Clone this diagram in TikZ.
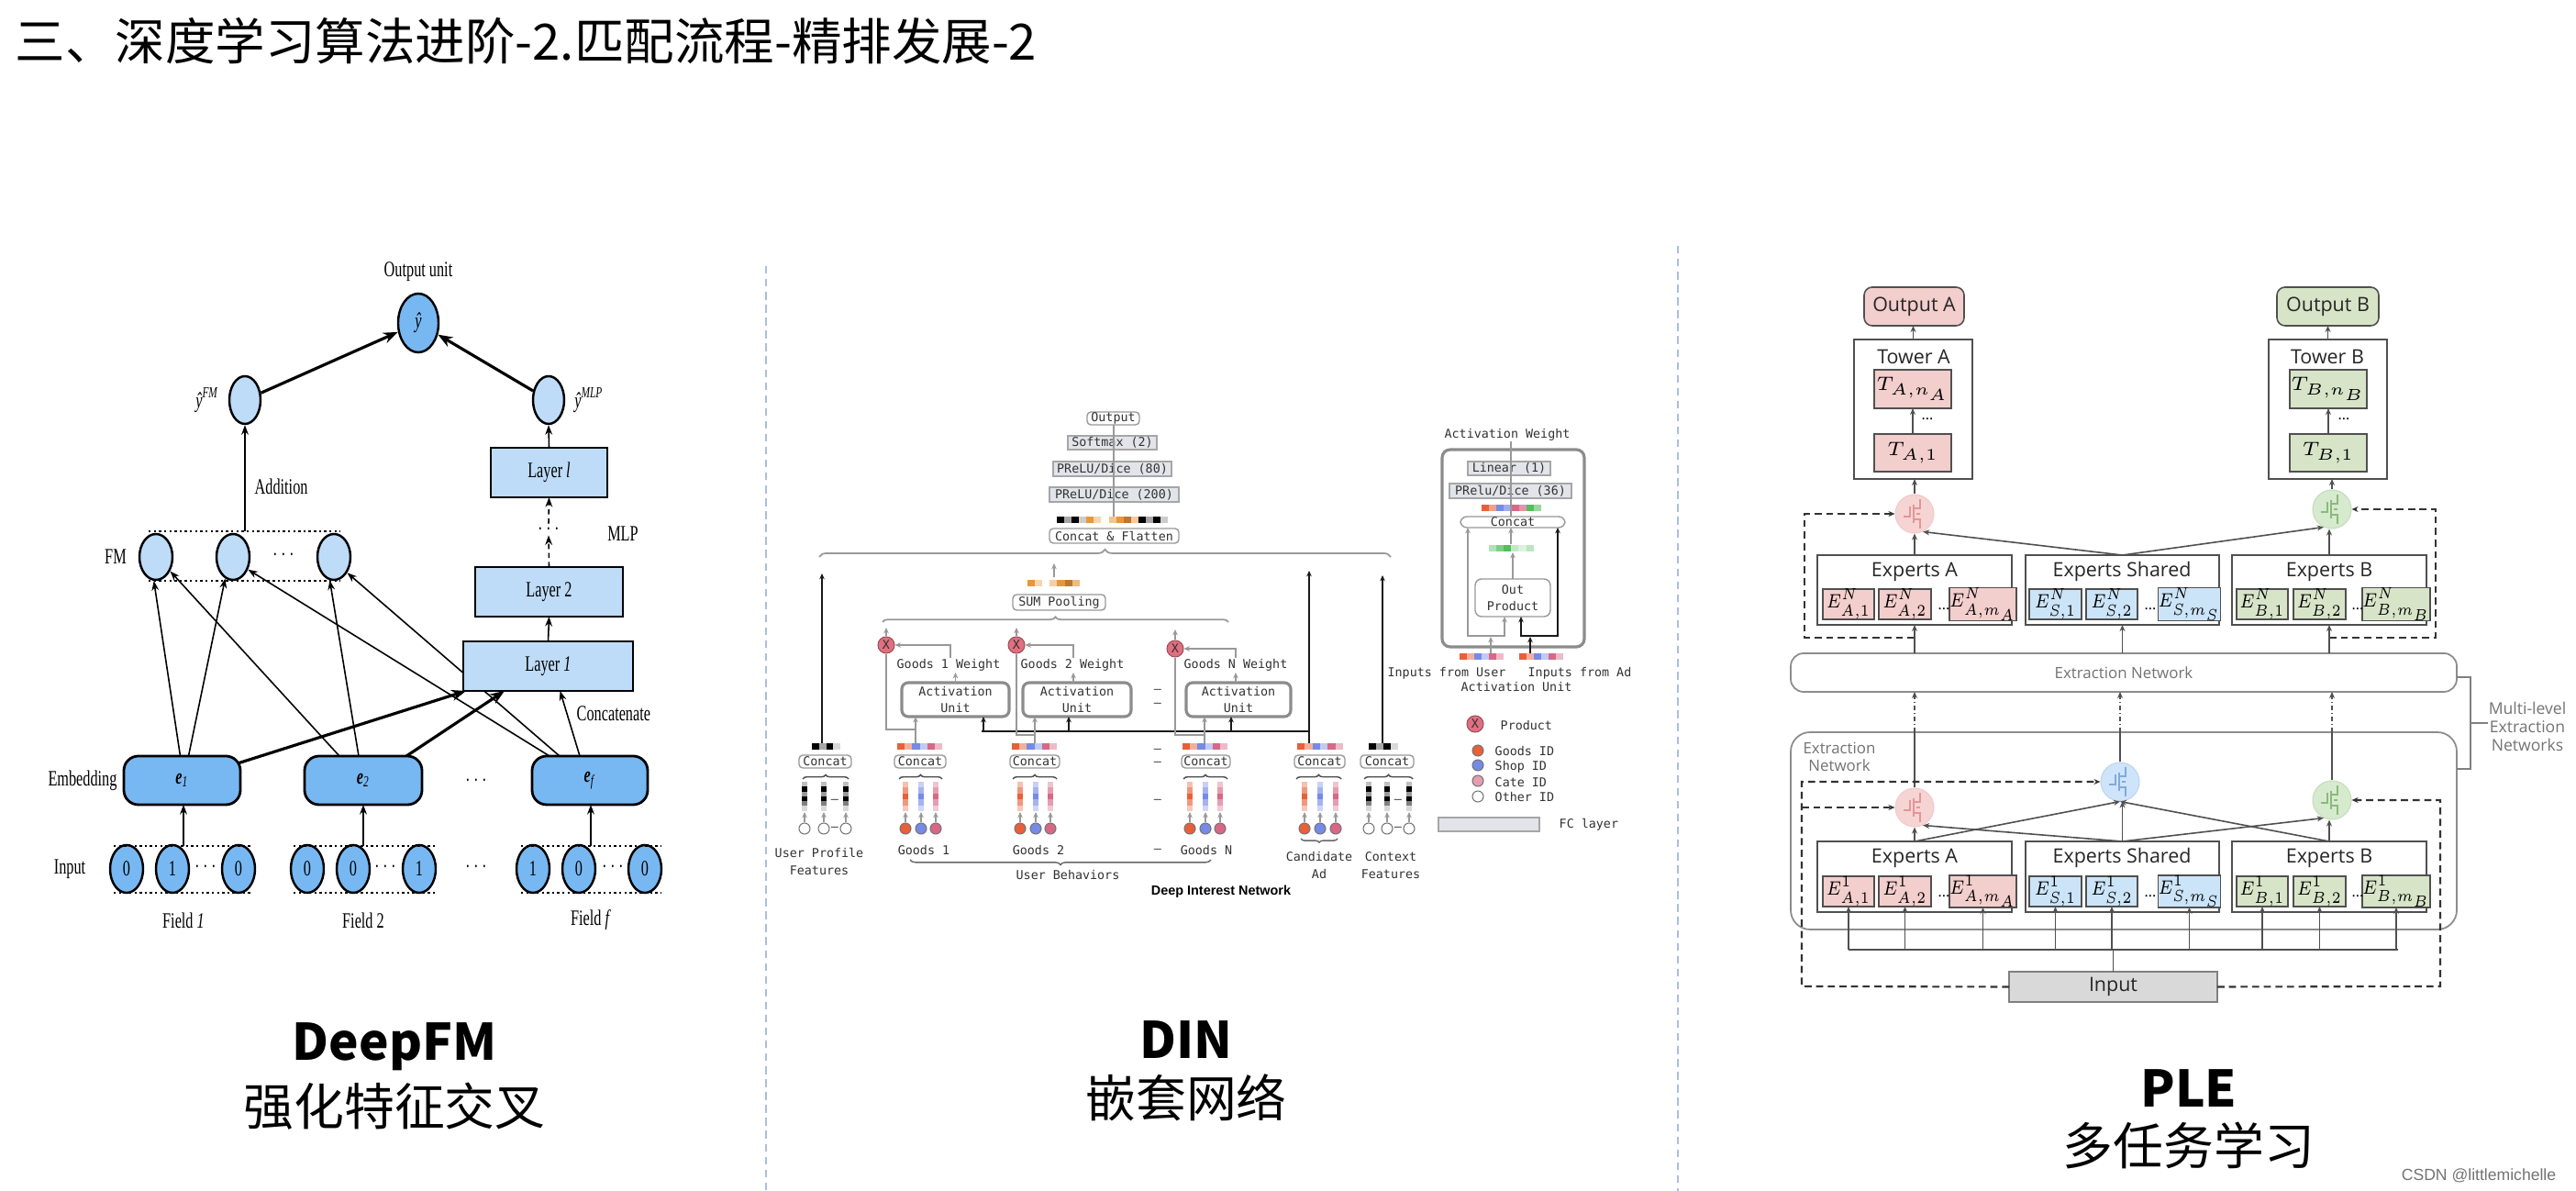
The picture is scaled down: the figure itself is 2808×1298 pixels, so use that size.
\documentclass[tikz,border=0pt]{standalone}
\usepackage{graphicx}
\usepackage{fontspec}
\setmainfont{Liberation Serif}
\newfontfamily\cjk{Noto Sans CJK SC}
\newfontfamily\monof{DejaVu Sans Mono}
\newfontfamily\plef{Open Sans}
\newfontfamily\arialf{Liberation Sans}
\usetikzlibrary{arrows.meta,decorations.pathreplacing,calc,shapes.geometric}
\pgfdeclarelayer{bgl}
\pgfdeclarelayer{conl}
\pgfsetlayers{bgl,conl,main}

\definecolor{fmlight}{RGB}{190,220,248}
\definecolor{fmdark}{RGB}{120,184,242}
\definecolor{dinor}{RGB}{232,96,56}
\definecolor{dinbl}{RGB}{118,138,232}
\definecolor{dinpk}{RGB}{216,104,134}
\definecolor{dingr}{RGB}{84,190,92}
\definecolor{dinam}{RGB}{232,150,60}
\definecolor{dinprod}{RGB}{224,112,128}
\definecolor{dinfc}{RGB}{226,228,234}
\definecolor{dintext}{RGB}{50,50,50}
\definecolor{plepk}{RGB}{242,206,204}
\definecolor{plegr}{RGB}{216,228,200}
\definecolor{plebl}{RGB}{204,228,248}
\definecolor{pleline}{RGB}{80,80,80}
\definecolor{plegray}{RGB}{217,217,217}
\definecolor{divblue}{RGB}{170,190,225}
\definecolor{gapk}{RGB}{246,212,212}
\definecolor{gapkd}{RGB}{226,150,150}
\definecolor{gagr}{RGB}{214,234,206}
\definecolor{gagrd}{RGB}{140,185,125}
\definecolor{gabl}{RGB}{206,228,250}
\definecolor{gabld}{RGB}{130,170,215}

\newcommand{\fmsq}[1]{\scalebox{0.68}[1]{#1}}
\newcommand{\esq}[1]{\scalebox{0.82}[1]{#1}}
\newcommand{\boxnode}[7][]{%
  \pgfmathsetmacro\mybw{(#5-#3)*0.01}%
  \pgfmathsetmacro\mybh{(#6-#4)*0.01}%
  \node[inner sep=0pt, outer sep=0pt, minimum width=\mybw cm, minimum height=\mybh cm, #1] (#2) at ({(#3+#5)/2},{(#4+#6)/2}) {#7};}
\newcommand{\dinhbar}[4]{%
  \foreach \dcc [count=\dii from 0] in {#4} {\fill[\dcc] ({#1+\dii*#3},#2) rectangle ++(#3,7);}}
\newcommand{\dinvbar}[4]{%
  \foreach \dcc [count=\dii from 0] in {#4} {\fill[\dcc] ({#1-3},{#2+\dii*#3}) rectangle ++(6,#3);}}
\newcommand{\dincol}[3]{%
  \dinvbar{#2}{852}{6.4}{#3!40,#3!65,#3,#3!65,#3!35}
  \node[dcirc, fill=#3] (#1) at (#2,903) {};
  \draw[dgarr, line width=0.35pt] (#1.north) -- (#2,885);}
\newcommand{\dinbw}[2]{%
  \dinvbar{#2}{852}{5.3}{black!25,black,black!40,black,black!50,black!15}
  \node[dcirc, fill=white] (#1) at (#2,903) {};
  \draw[dgarr, line width=0.35pt] (#1.north) -- (#2,885);}
\newcommand{\gatesym}[2]{\begin{scope}[shift={(#1)}]
  \draw[#2, line width=0.35pt] (-12,3) -- (-5,3) -- (-5,-8) (-1,-10) -- (-1,10) (-1,-6) -- (6,-6) -- (6,-16) (-1,6) -- (6,6) -- (6,16) (2,0) -- (6,0);
  \end{scope}}
\newcommand{\ebox}[7]{\boxnode[pbox, fill=#6, pemath]{#1}{#2}{#4}{#3}{#5}{\esq{#7}}}

\tikzset{
 divider/.style={draw=divblue, line width=0.45pt, dash pattern=on 2.4pt off 1.6pt},
 fmtxt/.style={font=\fontsize{6.8}{7.5}\selectfont, inner sep=0pt},
 fmell/.style={ellipse, draw=black, line width=0.7pt, inner sep=0pt, fmtxt},
 fmbox/.style={draw=black, line width=0.8pt, fill=fmlight, fmtxt},
 fmarr/.style={line width=0.45pt, -{Stealth[length=3pt,width=2.2pt]}},
 fmthick/.style={line width=0.9pt, -{Stealth[length=4.5pt,width=3.4pt]}},
 fmdot/.style={line width=0.8pt, dash pattern=on 0.7pt off 0.9pt},
 dtxt/.style={font=\monof\fontsize{3.8}{5.2}\selectfont, text=dintext, inner sep=0pt, align=center},
 dfc/.style={fill=dinfc, draw=black!35, line width=0.35pt, dtxt},
 drnd/.style={draw=black!40, line width=0.4pt, rounded corners=1.2pt, fill=white, dtxt},
 dtip/.style={-{Stealth[length=1.8pt,width=1.6pt]}},
 dtips/.style={{Stealth[length=1.8pt,width=1.6pt]}-{Stealth[length=1.8pt,width=1.6pt]}},
 dgline/.style={draw=black!40, line width=0.5pt},
 dbline/.style={draw=black!90, line width=0.5pt},
 dgarr/.style={dgline, dtip},
 dbarr/.style={dbline, dtip},
 dcirc/.style={circle, draw=black!55, line width=0.3pt, minimum size=0.12cm, inner sep=0pt},
 dprod/.style={circle, fill=dinprod, draw=dinprod!70!black, line width=0.3pt, minimum size=0.18cm, inner sep=0pt, dtxt},
 dbrace/.style={decorate, decoration={brace, amplitude=#1}},
 dbracem/.style={decorate, decoration={brace, mirror, amplitude=#1}},
 ptxt/.style={font=\plef\fontsize{6.1}{7}\selectfont, text=black!85, inner sep=0pt},
 pbox/.style={draw=pleline, line width=0.45pt},
 pmath/.style={font=\fontsize{6.3}{7}\selectfont, inner sep=0pt},
 pemath/.style={font=\fontsize{5.6}{6}\selectfont, inner sep=0pt},
 pdots/.style={font=\plef\fontsize{4.5}{5}\selectfont, inner sep=0pt},
 ptip/.style={-{Stealth[length=2pt,width=1.7pt]}},
 parr/.style={draw=pleline, line width=0.45pt, ptip},
 pline/.style={draw=pleline, line width=0.45pt},
 pdash/.style={draw=black!80, line width=0.6pt, dash pattern=on 2.2pt off 1.4pt, ptip},
 pdashdot/.style={draw=pleline, line width=0.45pt, dash pattern=on 1.5pt off 0.8pt on 0.3pt off 0.8pt, ptip},
 pgate/.style={circle, minimum size=0.42cm, inner sep=0pt},
 pgtxt/.style={font=\plef\fontsize{4.8}{5.6}\selectfont, text=black!55, align=center, inner sep=0pt},
}

\begin{document}
\begin{tikzpicture}[x=0.01cm, y=-0.01cm]
\begin{pgfonlayer}{bgl}
\fill[white] (0,0) rectangle (2808,1298);
\end{pgfonlayer}
\useasboundingbox (0,0) rectangle (2808,1298);

% ---------------- title ----------------
\node[anchor=west, inner sep=0pt, font=\cjk\fontsize{15.5}{18}\selectfont] (title) at (16,45) {三、深度学习算法进阶-2.匹配流程-精排发展-2};

% dividers
\coordinate (d1t) at (835,290); \coordinate (d1b) at (835,1298);
\coordinate (d2t) at (1829,268); \coordinate (d2b) at (1829,1298);
\draw[divider] (d1t) -- (d1b);
\draw[divider] (d2t) -- (d2b);

% ================= DeepFM =================
\node[fmtxt] (outlbl) at (456,296) {\fmsq{Output unit}};
\node[fmell, fill=fmdark, minimum width=0.44cm, minimum height=0.64cm] (yhat) at (456,352) {\fmsq{\textit{ŷ}}};
\node[fmell, fill=fmlight, minimum width=0.34cm, minimum height=0.52cm] (yfm) at (267,436) {};
\node[fmtxt] (yfmlbl) at (226,436) {\fmsq{\textit{ŷ}\textsuperscript{\textit{FM}}}};
\node[fmell, fill=fmlight, minimum width=0.34cm, minimum height=0.52cm] (ymlp) at (598,436) {};
\node[fmtxt] (ymlplbl) at (642,436) {\fmsq{\textit{ŷ}\textsuperscript{\textit{MLP}}}};

\boxnode[fmbox]{Ll}{535}{488}{662}{542}{\fmsq{Layer \textit{l}}}
\node[fmtxt] (mlpdots) at (598,577) {\fmsq{$\cdots$}};
\node[fmtxt] (mlplbl) at (679,582) {\fmsq{MLP}};
\boxnode[fmbox]{L2}{518}{618}{679}{672}{\fmsq{Layer 2}}
\boxnode[fmbox]{L1}{505}{699}{690}{753}{\fmsq{Layer \textit{1}}}

\node[fmell, fill=fmlight, minimum width=0.36cm, minimum height=0.50cm] (fm1) at (170,607) {};
\node[fmell, fill=fmlight, minimum width=0.36cm, minimum height=0.50cm] (fm2) at (254,607) {};
\node[fmell, fill=fmlight, minimum width=0.36cm, minimum height=0.50cm] (fm3) at (364,607) {};
\node[fmtxt] (fmdots) at (309,605) {\fmsq{$\cdots$}};
\node[fmtxt] (fmlbl) at (126,607) {\fmsq{FM}};
\draw[fmdot] (162,579) -- (371,579);
\draw[fmdot] (162,633) -- (371,633);
\coordinate (fmtop) at (267,579);
\node[fmtxt, anchor=west] (addlbl) at (277,530) {\fmsq{Addition}};

\boxnode[fmbox, fill=fmdark, rounded corners=4.5pt]{e1}{135}{824}{262}{877}{\fmsq{\textbf{\textit{e}}\textsubscript{\textit{1}}}}
\boxnode[fmbox, fill=fmdark, rounded corners=4.5pt]{e2}{332}{824}{460}{877}{\fmsq{\textbf{\textit{e}}\textsubscript{\textit{2}}}}
\boxnode[fmbox, fill=fmdark, rounded corners=4.5pt]{ef}{580}{824}{706}{877}{\fmsq{\textbf{\textit{e}}\textsubscript{\textit{f}}}}
\node[fmtxt] (emblbl) at (90,851) {\fmsq{Embedding}};
\node[fmtxt] (embdots) at (519,851) {\fmsq{$\cdots$}};
\node[fmtxt, anchor=west] (catlbl) at (628,778) {\fmsq{Concatenate}};

\foreach \nm/\xx/\vv in {i11/138/0, i12/188/1, i13/260/0, i21/335/0, i22/385/0, i23/457/1, i31/581/1, i32/631/0, i33/703/0}
  \node[fmell, fill=fmdark, minimum width=0.36cm, minimum height=0.52cm] (\nm) at (\xx,947) {\fmsq{\vv}};
\foreach \nm/\xx in {idA/224, idB/420, idC/668, idD/519}
  \node[fmtxt] (\nm) at (\xx,945) {\fmsq{$\cdots$}};
\foreach \xa/\xb in {124/275, 320/474, 568/720} {
  \draw[fmdot] (\xa,922) -- (\xb,922);
  \draw[fmdot] (\xa,973) -- (\xb,973);}
\node[fmtxt] (inlbl) at (76,947) {\fmsq{Input}};
\node[fmtxt] (fl1) at (200,1003) {\fmsq{Field \textit{1}}};
\node[fmtxt] (fl2) at (396,1003) {\fmsq{Field 2}};
\node[fmtxt] (flf) at (644,1003) {\fmsq{Field \textit{f}}};
\coordinate (g1top) at (200,922);
\coordinate (g2top) at (396,922);
\coordinate (g3top) at (644,922);

\begin{pgfonlayer}{conl}
\draw[fmthick] (yfm) -- (yhat);
\draw[fmthick] (ymlp) -- (yhat);
\draw[fmarr] (fmtop) -- (yfm.south);
\draw[fmarr] (Ll.north) -- (ymlp.south);
\draw[fmarr, dash pattern=on 1.6pt off 1.2pt] (L2.north) -- (mlpdots.south);
\draw[fmarr, dash pattern=on 1.6pt off 1.2pt] (mlpdots.north) -- (Ll.south);
\draw[fmarr] (L1.north) -- (L2.south);
\draw[fmarr] (g1top) -- (g1top |- e1.south);
\draw[fmarr] (g2top) -- (g2top |- e2.south);
\draw[fmarr] (g3top) -- (g3top |- ef.south);
\draw[fmarr] ($(e1.north)+(-2,0)$) -- (fm1.-95);
\draw[fmarr] ($(e1.north)+(7,0)$) -- (fm2.-110);
\draw[fmarr] ($(e2.north)+(-26,0)$) -- (fm1.-45);
\draw[fmarr] ($(e2.north)+(-5,0)$) -- (fm3.-100);
\draw[fmarr] ($(ef.north)+(-44,0)$) -- (fm2.-40);
\draw[fmarr] ($(ef.north)+(-33,0)$) -- (fm3.-50);
\draw[fmthick] ($(e1.north east)+(-3,8)$) -- ($(L1.south west)+(3,0)$);
\draw[fmthick] ($(e2.north east)+(-17,0)$) -- ($(L1.south west)+(45,0)$);
\draw[fmarr] ($(ef.north)+(-11,0)$) -- ($(L1.south)+(13,0)$);
\end{pgfonlayer}

% ================= DIN =================
\boxnode[drnd]{dout}{1185}{449}{1242}{463}{Output}
\boxnode[dfc]{dsoft}{1164}{475}{1261}{490}{Softmax (2)}
\boxnode[dfc]{dp80}{1148}{503}{1277}{519}{PReLU/Dice (80)}
\boxnode[dfc]{dp200}{1144}{531}{1285}{547}{PReLU/Dice (200)}
\dinhbar{1152}{563}{8.07}{black,black!35,black,black!20,dinam,dinam!40,white,dinam!55,dinam,dinam!80!black,dinam!50,black,black!35,black,black!20}
\boxnode[drnd]{dcf}{1144}{576}{1285}{592}{Concat \& Flatten}
\coordinate (dbartop) at (1214,563);
\draw[dgline] (dbartop |- dout.south) -- (dbartop);

\coordinate (bigbL) at (893,607); \coordinate (bigbR) at (1516,607);
\draw[dgline, dbrace=2.3pt] (bigbL) -- (bigbR);
\coordinate (upbar) at (896,810); \coordinate (upend) at (896,625);
\coordinate (cabar) at (1427,810); \coordinate (caend) at (1427,622);
\coordinate (cfbar) at (1507,810); \coordinate (cfend) at (1507,627);
\draw[dbarr] (upbar) -- (upend);
\draw[dbarr] (cabar) -- (caend);
\draw[dbarr] (cfbar) -- (cfend);

\dinhbar{1120}{632}{8.1}{dinam,dinam!40,white,dinam!45,dinam,dinam!80!black,dinam!65}
\boxnode[drnd]{dsum}{1104}{648}{1205}{665}{SUM Pooling}
\coordinate (sumA) at (1149,629); \coordinate (sumB) at (1149,614);
\draw[dgarr] (sumA) -- (sumB);
\coordinate (smbL) at (962,678); \coordinate (smbR) at (1339,678);
\draw[dgline, dbrace=1.6pt] (smbL) -- (smbR);

\node[dprod] (px1) at (966,703) {X};
\node[dprod] (px2) at (1108,703) {X};
\node[dprod] (px3) at (1281,707) {X};
\coordinate (px1u) at (966,684); \coordinate (px2u) at (1108,684); \coordinate (px3u) at (1281,686);
\draw[dgarr] (px1.north) -- (px1u);
\draw[dgarr] (px2.north) -- (px2u);
\draw[dgarr] (px3.north) -- (px3u);

\node[dtxt] (wl1) at (1034,725) {Goods 1 Weight};
\node[dtxt] (wl2) at (1169,725) {Goods 2 Weight};
\node[dtxt] (wl3) at (1347,725) {Goods N Weight};
\coordinate (w1s) at (1036,717); \coordinate (w2s) at (1170,717); \coordinate (w3s) at (1347,717);
\draw[dgarr, line width=0.75pt] (w1s) |- (px1.east);
\draw[dgarr, line width=0.75pt] (w2s) |- (px2.east);
\draw[dgarr, line width=0.75pt] (w3s) |- (px3.east);

\boxnode[drnd, draw=black!45, line width=0.9pt, rounded corners=2pt]{au1}{983}{744}{1100}{781}{Activation\\Unit}
\boxnode[drnd, draw=black!45, line width=0.9pt, rounded corners=2pt]{au2}{1115}{744}{1233}{781}{Activation\\Unit}
\boxnode[drnd, draw=black!45, line width=0.9pt, rounded corners=2pt]{au3}{1293}{744}{1407}{781}{Activation\\Unit}
\draw[dgarr] (au1.north) -- ($(au1.north)+(0,-11)$);
\draw[dgarr] ($(au2.north)+(-4,0)$) -- ($(au2.north)+(-4,-11)$);
\draw[dgarr] ($(au3.north)+(-3,0)$) -- ($(au3.north)+(-3,-11)$);
\foreach \yy in {753,768,818,832,873,927}
  \node[dtxt] (dsh\yy) at (1262,\yy) {–};

\coordinate (adL) at (1070,797); \coordinate (adR) at (1427,797);
\draw[dbline] (adL) -- (adR);
\coordinate (ad1) at (1072,797); \coordinate (ad2) at (1165,797); \coordinate (ad3) at (1342,797);
\draw[dbarr] (ad1) -- (ad1 |- au1.south);
\draw[dbarr] (ad2) -- (ad2 |- au2.south);
\draw[dbarr] (ad3) -- (ad3 |- au3.south);

\coordinate (g1b) at (998,810); \coordinate (g1k) at (998,795);
\coordinate (g2b) at (1128,810); \coordinate (g2k) at (1128,801);
\coordinate (g3b) at (1313,810); \coordinate (g3k) at (1313,801);
\draw[dgarr] (g1b) -- (g1b |- au1.south);
\draw[dgarr] (g2b) -- (g2b |- au2.south);
\draw[dgarr] (g3b) -- (g3b |- au3.south);
\draw[dgline] (g1k) -| (px1.south);
\draw[dgline] (g2k) -| (px2.south);
\draw[dgline] (g3k) -| (px3.south);

\dinhbar{885}{810}{7.75}{black,black!35,black,black!15}
\dinhbar{978}{810}{8.2}{dinor,dinor!50,dinbl,dinbl!45,dinpk,dinpk!45}
\dinhbar{1103}{810}{8.2}{dinor,dinor!50,dinbl,dinbl!45,dinpk,dinpk!45}
\dinhbar{1289}{810}{8.2}{dinor,dinor!50,dinbl,dinbl!45,dinpk,dinpk!45}
\dinhbar{1414}{810}{8.3}{dinor,dinor!50,dinbl,dinbl!45,dinpk,dinpk!45}
\dinhbar{1492}{810}{8}{black,black!35,black,black!15}

\boxnode[drnd]{cup}{871}{823}{928}{837}{Concat}
\boxnode[drnd]{cg1}{975}{823}{1031}{837}{Concat}
\boxnode[drnd]{cg2}{1101}{823}{1155}{837}{Concat}
\boxnode[drnd]{cgn}{1288}{823}{1341}{837}{Concat}
\boxnode[drnd]{cca}{1411}{823}{1466}{837}{Concat}
\boxnode[drnd]{ccf}{1483}{823}{1541}{837}{Concat}
\foreach \bl/\br in {875/925, 980/1027, 1104/1152, 1290/1338, 1413/1462, 1487/1540}
  \draw[black!70, line width=0.4pt, dbrace=1.3pt] (\bl,849) -- (\br,849);

\dinbw{upc1}{877}
\dinbw{upc2}{898}
\dinbw{upc3}{922}
\dincol{c1a}{987}{dinor}
\dincol{c1b}{1004}{dinbl}
\dincol{c1c}{1020}{dinpk}
\dincol{c2a}{1112}{dinor}
\dincol{c2b}{1129}{dinbl}
\dincol{c2c}{1145}{dinpk}
\dincol{cna}{1297}{dinor}
\dincol{cnb}{1314}{dinbl}
\dincol{cnc}{1330}{dinpk}
\dincol{caa}{1422}{dinor}
\dincol{cab}{1439}{dinbl}
\dincol{cac}{1456}{dinpk}
\dinbw{cf1}{1492}
\dinbw{cf2}{1512}
\dinbw{cf3}{1536}
\node[dtxt] (upd1) at (910,873) {–};
\node[dtxt] (upd2) at (910,903) {–};
\node[dtxt] (cfd1) at (1524,873) {–};
\node[dtxt] (cfd2) at (1524,903) {–};

\node[dtxt] (lbup) at (893,939) {User Profile\\Features};
\node[dtxt] (lbg1) at (1007,927) {Goods 1};
\node[dtxt] (lbg2) at (1132,927) {Goods 2};
\node[dtxt] (lbgn) at (1315,927) {Goods N};
\coordinate (ubL) at (992,937); \coordinate (ubR) at (1320,937);
\draw[black!60, line width=0.4pt, dbracem=1.6pt] (ubL) -- (ubR);
\node[dtxt] (lbub) at (1164,954) {User Behaviors};
\coordinate (caL) at (1418,914); \coordinate (caR) at (1458,914);
\draw[black!60, line width=0.4pt, dbracem=1.2pt] (caL) -- (caR);
\node[dtxt] (lbca) at (1438,943) {Candidate\\Ad};
\node[dtxt] (lbcf) at (1516,943) {Context\\Features};
\node[font=\arialf\bfseries\fontsize{4.1}{5}\selectfont, inner sep=0pt] (dinname) at (1331,972) {Deep Interest Network};

% activation unit detail
\node[dtxt] (aw) at (1643,474) {Activation Weight};
\boxnode[draw=black!45, line width=0.9pt, rounded corners=2.5pt]{aubig}{1572}{490}{1727}{705}{}
\boxnode[dfc]{alin}{1600}{503}{1690}{518}{Linear (1)}
\boxnode[dfc]{aprelu}{1580}{527}{1713}{543}{PRelu/Dice (36)}
\dinhbar{1615}{550}{8.1}{dinor,dinor!60,dinbl,dinbl!70,dinpk,dinpk!70,dingr,dingr!60}
\boxnode[drnd, rounded corners=2pt]{acat}{1592}{563}{1706}{575}{Concat}
\coordinate (awline) at (1647,563);
\draw[dgline] (awline |- aw.south) -- (awline);
\dinhbar{1623}{594}{8.1}{dingr!45,dingr!75,dingr,dingr!35,dingr!20,dingr!40}
\boxnode[drnd, rounded corners=2pt]{aop}{1608}{631}{1690}{672}{Out\\Product}
\coordinate (grn) at (1647,602);
\draw[dgarr] (aop.north) -- (aop.north |- grn);
\coordinate (grn2) at (1647,593);
\draw[dgarr] (grn2) -- (grn2 |- acat.south);
\coordinate (ulft) at (1600,693); \coordinate (urt) at (1640,693);
\draw[dgline, dtips] (ulft |- acat.south) -- (ulft) -- (urt) -- (urt |- aop.south);
\coordinate (blft) at (1658,693); \coordinate (brt) at (1698,693);
\draw[dbline, dtips] (brt |- acat.south) -- (brt) -- (blft) -- (blft |- aop.south);
\coordinate (uin) at (1625,712); \coordinate (uin2) at (1625,694);
\coordinate (ain) at (1668,712); \coordinate (ain2) at (1668,694);
\draw[dgarr] (uin) -- (uin2);
\draw[dbarr] (ain) -- (ain2);
\dinhbar{1591}{712}{8}{dinor,dinor!50,dinbl,dinbl!45,dinpk,dinpk!45}
\dinhbar{1656}{712}{8}{dinor,dinor!50,dinbl,dinbl!45,dinpk,dinpk!45}
\node[dtxt] (ifu) at (1577,734) {Inputs from User};
\node[dtxt] (ifa) at (1722,734) {Inputs from Ad};
\node[dtxt] (aul) at (1653,749) {Activation Unit};

% legend
\node[dprod] (lgp) at (1608,789) {X};
\node[dtxt, anchor=west] (lgpt) at (1635,791) {Product};
\node[dcirc, fill=dinor] (lg1) at (1611,818) {};
\node[dcirc, fill=dinbl] (lg2) at (1611,834) {};
\node[dcirc, fill=dinpk!65] (lg3) at (1611,851) {};
\node[dcirc, fill=white] (lg4) at (1611,868) {};
\node[dtxt, anchor=west] (lg1t) at (1629,819) {Goods ID};
\node[dtxt, anchor=west] (lg2t) at (1629,836) {Shop ID};
\node[dtxt, anchor=west] (lg3t) at (1629,853) {Cate ID};
\node[dtxt, anchor=west] (lg4t) at (1629,869) {Other ID};
\boxnode[fill=dinfc, draw=black!35, line width=0.35pt]{lgfc}{1568}{891}{1678}{906}{}
\node[dtxt, anchor=west] (lgfct) at (1699,899) {FC layer};

% ================= PLE =================
\boxnode[pbox, fill=plepk, rounded corners=2.5pt, ptxt]{outA}{2032}{313}{2141}{355}{Output A}
\boxnode[pbox, fill=plegr, rounded corners=2.5pt, ptxt]{outB}{2482}{313}{2593}{355}{Output B}
\boxnode[pbox, fill=white]{towA}{2021}{370}{2150}{522}{}
\boxnode[pbox, fill=white]{towB}{2473}{370}{2602}{522}{}
\node[ptxt] (towAl) at (2086,389) {Tower A};
\node[ptxt] (towBl) at (2537,389) {Tower B};
\boxnode[pbox, fill=plepk, pmath]{tAn}{2043}{403}{2127}{445}{$T_{A,n_A}$}
\boxnode[pbox, fill=plepk, pmath]{tA1}{2043}{473}{2127}{514}{$T_{A,1}$}
\boxnode[pbox, fill=plegr, pmath]{tBn}{2496}{403}{2580}{445}{$T_{B,n_B}$}
\boxnode[pbox, fill=plegr, pmath]{tB1}{2496}{473}{2580}{514}{$T_{B,1}$}
\node[pdots] (tAd) at (2101,457) {...};
\node[pdots] (tBd) at (2555,457) {...};
\draw[parr] (tA1.north) -- (tAn.south);
\draw[parr] (tB1.north) -- (tBn.south);
\draw[parr] (towA.north) -- (towA.north |- outA.south);
\draw[parr] (towB.north) -- (towB.north |- outB.south);

\node[pgate, fill=gapk, draw=gapkd!50, line width=0.3pt] (gA2) at (2087,560) {};
\gatesym{gA2}{gapkd}
\node[pgate, fill=gagr, draw=gagrd!50, line width=0.3pt] (gB2) at (2542,555) {};
\gatesym{gB2}{gagrd}
\draw[parr] (gA2.north) -- (gA2.north |- towA.south);
\draw[parr] (gB2.north) -- (gB2.north |- towB.south);

% upper experts
\boxnode[pbox, fill=white]{exA2}{1981}{605}{2193}{681}{}
\boxnode[pbox, fill=white]{exS2}{2208}{605}{2419}{681}{}
\boxnode[pbox, fill=white]{exB2}{2433}{605}{2645}{681}{}
\node[ptxt] (exA2l) at (2087,623) {Experts A};
\node[ptxt] (exS2l) at (2313,623) {Experts Shared};
\node[ptxt] (exB2l) at (2539,623) {Experts B};
\ebox{eA21}{1987}{2043}{642}{675}{plepk}{$E^N_{A,1}$}
\ebox{eA22}{2048}{2105}{642}{675}{plepk}{$E^N_{A,2}$}
\ebox{eA2m}{2133}{2190}{642}{675}{plepk}{$E^N_{A,m_A}$}
\ebox{eS21}{2212}{2269}{642}{675}{plebl}{$E^N_{S,1}$}
\ebox{eS22}{2274}{2330}{642}{675}{plebl}{$E^N_{S,2}$}
\ebox{eS2m}{2358}{2415}{642}{675}{plebl}{$E^N_{S,m_S}$}
\ebox{eB21}{2438}{2494}{642}{675}{plegr}{$E^N_{B,1}$}
\ebox{eB22}{2500}{2557}{642}{675}{plegr}{$E^N_{B,2}$}
\ebox{eB2m}{2584}{2640}{642}{675}{plegr}{$E^N_{B,m_B}$}
\node[pdots] (dA2) at (2119,664) {...};
\node[pdots] (dS2) at (2344,664) {...};
\node[pdots] (dB2) at (2570,664) {...};
\draw[parr] (exA2.north) -- (exA2.north |- gA2.south);
\draw[parr] (exS2.north) -- (gA2.-65);
\draw[parr] (exS2.north) -- (gB2.-115);
\draw[parr] (exB2.north) -- (exB2.north |- gB2.south);
\coordinate (dUA) at (2087,695); \coordinate (dUAl) at (1967,695);
\coordinate (dUB) at (2539,695); \coordinate (dUBr) at (2655,695);
\draw[pdash] (dUA) -- (dUAl) |- (gA2.west);
\draw[pdash] (dUB) -- (dUBr) |- (gB2.east);

\boxnode[draw=black!45, line width=0.5pt, rounded corners=4pt, fill=white, pgtxt]{extU}{1952}{712}{2678}{754}{Extraction Network}
\draw[parr] (exA2.south |- extU.north) -- (exA2.south);
\draw[parr] (exS2.south |- extU.north) -- (exS2.south);
\draw[parr] (exB2.south |- extU.north) -- (exB2.south);

% lower extraction network
\boxnode[draw=black!45, line width=0.5pt, rounded corners=6pt]{extL}{1952}{798}{2678}{1013}{}
\node[pgtxt] (extLl) at (2005,825) {Extraction\\Network};
\node[pgate, fill=gapk, draw=gapkd!50, line width=0.3pt] (gA1) at (2087,880) {};
\gatesym{gA1}{gapkd}
\node[pgate, fill=gabl, draw=gabld!50, line width=0.3pt] (gS1) at (2311,852) {};
\gatesym{gS1}{gabld}
\node[pgate, fill=gagr, draw=gagrd!50, line width=0.3pt] (gB1) at (2542,872) {};
\gatesym{gB1}{gagrd}
\draw[pline] (gA1.north) -- (gA1.north |- extL.north);
\draw[pline] (gS1.north) -- (gS1.north |- extL.north);
\draw[pline] (gB1.north) -- (gB1.north |- extL.north);
\draw[pdashdot] (gA1.north |- extL.north) -- (gA1.north |- extU.south);
\draw[pdashdot] (gS1.north |- extL.north) -- (gS1.north |- extU.south);
\draw[pdashdot] (gB1.north |- extL.north) -- (gB1.north |- extU.south);

\boxnode[pbox, fill=white]{exA1}{1981}{917}{2193}{994}{}
\boxnode[pbox, fill=white]{exS1}{2208}{917}{2419}{994}{}
\boxnode[pbox, fill=white]{exB1}{2433}{917}{2645}{994}{}
\node[ptxt] (exA1l) at (2087,935) {Experts A};
\node[ptxt] (exS1l) at (2313,935) {Experts Shared};
\node[ptxt] (exB1l) at (2539,935) {Experts B};
\ebox{eA11}{1987}{2043}{955}{988}{plepk}{$E^1_{A,1}$}
\ebox{eA12}{2048}{2105}{955}{988}{plepk}{$E^1_{A,2}$}
\ebox{eA1m}{2133}{2190}{955}{988}{plepk}{$E^1_{A,m_A}$}
\ebox{eS11}{2212}{2269}{955}{988}{plebl}{$E^1_{S,1}$}
\ebox{eS12}{2274}{2330}{955}{988}{plebl}{$E^1_{S,2}$}
\ebox{eS1m}{2358}{2415}{955}{988}{plebl}{$E^1_{S,m_S}$}
\ebox{eB11}{2438}{2494}{955}{988}{plegr}{$E^1_{B,1}$}
\ebox{eB12}{2500}{2557}{955}{988}{plegr}{$E^1_{B,2}$}
\ebox{eB1m}{2584}{2640}{955}{988}{plegr}{$E^1_{B,m_B}$}
\node[pdots] (dA1) at (2119,977) {...};
\node[pdots] (dS1) at (2344,977) {...};
\node[pdots] (dB1) at (2570,977) {...};
\draw[parr] (exA1.north) -- (exA1.north |- gA1.south);
\draw[parr] (exA1.north) -- (gS1.south);
\draw[parr] (exS1.north) -- (exS1.north |- gS1.south);
\draw[parr] (exS1.north) -- (gA1.-65);
\draw[parr] (exS1.north) -- (gB1.-115);
\draw[parr] (exB1.north) -- (gS1.south);
\draw[parr] (exB1.north) -- (exB1.north |- gB1.south);

\boxnode[draw=black!50, line width=0.45pt, fill=plegray, ptxt]{inp}{2190}{1059}{2417}{1092}{Input}
\coordinate (dLl) at (1964,1075); \coordinate (dLr) at (2660,1075); \coordinate (dLk) at (1964,880);
\draw[pdash] (inp.west) -- (dLl) |- (gS1.west);
\draw[pdash] (dLk) -- (gA1.west);
\draw[pdash] (inp.east) -- (dLr) |- (gB1.east);
\coordinate (inbus) at (2303,1035);
\coordinate (busL) at (2015,1035); \coordinate (busR) at (2614,1035);
\draw[pline] (inp.north) -- (inp.north |- inbus);
\draw[pline] (busL) -- (busR);
\foreach \en in {eA11,eA12,eA1m,eS11,eS12,eS1m,eB11,eB12,eB1m}
  \draw[parr] (\en.south |- busL) -- (\en.south);

% multi-level bracket
\coordinate (brA) at (2678,738); \coordinate (brB) at (2693,738);
\coordinate (brC) at (2693,838); \coordinate (brD) at (2678,838);
\coordinate (brM) at (2693,788); \coordinate (brT) at (2712,788);
\draw[black!50, line width=0.5pt] (brA) -- (brB) -- (brC) -- (brD);
\draw[black!50, line width=0.5pt] (brM) -- (brT);
\node[font=\plef\fontsize{5}{5.7}\selectfont, text=black!55, align=center, inner sep=0pt] (mlen) at (2755,792) {Multi-level\\Extraction\\Networks};

% ================= captions =================
\node[font=\cjk\bfseries\fontsize{15.6}{18}\selectfont, inner sep=0pt] (capfm) at (430,1141) {DeepFM};
\node[font=\cjk\fontsize{15.6}{18}\selectfont, inner sep=0pt] (capfm2) at (430,1206) {强化特征交叉};
\node[font=\cjk\bfseries\fontsize{15.6}{18}\selectfont, inner sep=0pt] (capdin) at (1293,1133) {DIN};
\node[font=\cjk\fontsize{15.6}{18}\selectfont, inner sep=0pt] (capdin2) at (1293,1196) {嵌套网络};
\node[font=\cjk\bfseries\fontsize{15.6}{18}\selectfont, inner sep=0pt] (capple) at (2386,1186) {PLE};
\node[font=\cjk\fontsize{15.6}{18}\selectfont, inner sep=0pt] (capple2) at (2386,1248) {多任务学习};
\node[font=\arialf\fontsize{5}{6}\selectfont, text=black!55, inner sep=0pt] (wm) at (2702,1281) {CSDN @littlemichelle};
\end{tikzpicture}
\end{document}
